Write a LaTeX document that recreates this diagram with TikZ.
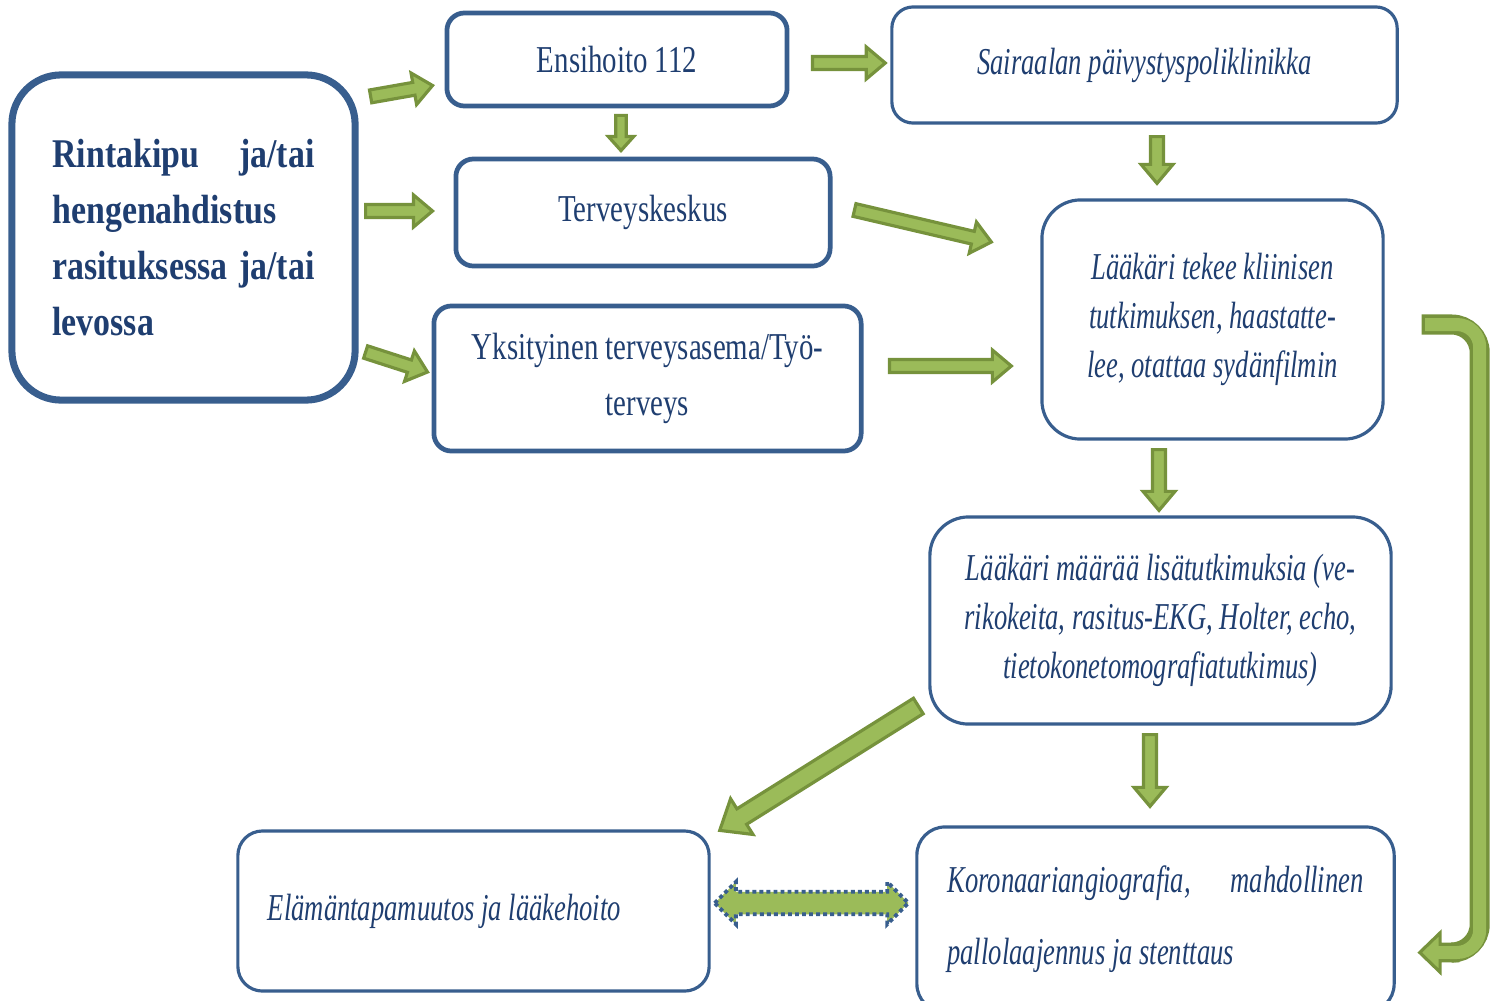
\documentclass[tikz,border=0pt]{standalone}
\usepackage{fontspec}
\setmainfont{Liberation Serif}
\newfontfamily\boxfont{Liberation Serif}[FakeStretch=0.76]
\newfontfamily\notefont{Liberation Serif}[FakeStretch=0.70]
\newfontfamily\headfont{Liberation Serif}[FakeStretch=0.83]
\usetikzlibrary{calc}
\definecolor{boxblue}{RGB}{56,94,142}
\definecolor{textnavy}{RGB}{31,62,112}
\definecolor{leaf}{RGB}{155,187,89}
\definecolor{moss}{RGB}{118,146,60}

\tikzset{
  shaft half/.store in=\shafthalf,
  head half/.store in=\headhalf,
  head len/.store in=\headlen,
  shaft half=1.85pt, head half=4.55pt, head len=5.4pt
}

\newcommand{\blockarrow}[3][]{%
  \path[greenarrow,#1] let \p1=#2, \p2=#3,
    \n1={atan2(\y2-\y1,\x2-\x1)} in
    ($(\p1)+(\n1+90:\shafthalf)$)
    -- ($(\p2)+(\n1+180:\headlen)+(\n1+90:\shafthalf)$)
    -- ($(\p2)+(\n1+180:\headlen)+(\n1+90:\headhalf)$)
    -- (\p2)
    -- ($(\p2)+(\n1+180:\headlen)+(\n1-90:\headhalf)$)
    -- ($(\p2)+(\n1+180:\headlen)+(\n1-90:\shafthalf)$)
    -- ($(\p1)+(\n1-90:\shafthalf)$) -- cycle;}

\newcommand{\dblarrow}[3][]{%
  \path[twoway,#1] let \p1=#2, \p2=#3,
    \n1={atan2(\y2-\y1,\x2-\x1)} in
    (\p1)
    -- ($(\p1)+(\n1:\headlen)+(\n1+90:\headhalf)$)
    -- ($(\p1)+(\n1:\headlen)+(\n1+90:\shafthalf)$)
    -- ($(\p2)+(\n1+180:\headlen)+(\n1+90:\shafthalf)$)
    -- ($(\p2)+(\n1+180:\headlen)+(\n1+90:\headhalf)$)
    -- (\p2)
    -- ($(\p2)+(\n1+180:\headlen)+(\n1-90:\headhalf)$)
    -- ($(\p2)+(\n1+180:\headlen)+(\n1-90:\shafthalf)$)
    -- ($(\p1)+(\n1:\headlen)+(\n1-90:\shafthalf)$)
    -- ($(\p1)+(\n1:\headlen)+(\n1-90:\headhalf)$) -- cycle;}

\begin{document}
\begin{tikzpicture}[
  x=0.01cm,
  y=-0.01cm,
  box/.style={
    draw=boxblue,
    line width=.9pt,
    align=center,
    text=textnavy,
    inner sep=0pt,
    font=\boxfont\fontsize{10.8}{16}\selectfont
  },
  thickbox/.style={box,line width=1.35pt,rounded corners=5pt},
  notebox/.style={box,font=\notefont\itshape\fontsize{10.8}{14}\selectfont},
  greenarrow/.style={draw=moss,fill=leaf,line width=.9pt},
  bigarrow/.style={shaft half=2.6pt,head half=6pt,head len=7.4pt},
  smallarrow/.style={shaft half=1.5pt,head half=3.6pt,head len=4pt},
  twoway/.style={
    draw=boxblue,fill=leaf,line width=1.1pt,
    dash pattern=on 1.1pt off .9pt,
    shaft half=3.2pt,head half=6pt,head len=6pt
  },
  loopdark/.style={draw=moss,line width=5.7pt,rounded corners=8pt},
  looplight/.style={draw=leaf,line width=3.7pt,rounded corners=6.5pt}
]
\useasboundingbox (0,0) rectangle (1501,1000);

\node[box,line width=2pt,rounded corners=14pt,
  minimum width=3.43cm,minimum height=3.25cm,
  align=flush left,text width=2.62cm,
  font=\headfont\bfseries\fontsize{11.6}{15.9}\selectfont]
  (symptom) at (183.5,237.5)
  {Rintakipu\hfill ja/tai\\hengenahdistus\\rasituksessa\hfill ja/tai\\levossa};

\node[thickbox,minimum width=3.40cm,minimum height=.93cm]
  (ems) at (617,59.5) {Ensihoito 112};
\node[thickbox,minimum width=3.74cm,minimum height=1.07cm]
  (hc) at (643,212.5) {Terveyskeskus};
\node[thickbox,minimum width=4.27cm,minimum height=1.45cm]
  (private) at (647.5,378.5) {Yksityinen terveysasema/Työ-\\terveys};

\node[notebox,rounded corners=6pt,minimum width=5.05cm,minimum height=1.16cm]
  (er) at (1144.5,65) {Sairaalan päivystyspoliklinikka};
\node[notebox,rounded corners=11pt,minimum width=3.41cm,minimum height=2.39cm]
  (exam) at (1212.5,319.5)
  {Lääkäri tekee kliinisen\\tutkimuksen, haastatte-\\lee, otattaa sydänfilmin};
\node[notebox,rounded corners=11pt,minimum width=4.61cm,minimum height=2.07cm]
  (tests) at (1160.5,620.5)
  {Lääkäri määrää lisätutkimuksia (ve-\\rikokeita, rasitus-EKG, Holter, echo,\\tietokonetomografiatutkimus)};
\node[notebox,rounded corners=7pt,minimum width=4.71cm,minimum height=1.6cm,
  align=flush left,text width=4.11cm]
  (lifestyle) at (473.5,911) {Elämäntapamuutos ja lääkehoito};
\node[notebox,rounded corners=8pt,minimum width=4.77cm,minimum height=1.85cm,
  align=flush left,text width=4.16cm,
  font=\notefont\itshape\fontsize{10.8}{20.5}\selectfont]
  (angio) at (1155.5,919.5)
  {Koronaariangiografia,\hfill mahdollinen\\pallolaajennus ja stenttaus};

\blockarrow{([shift={(12,25)}]symptom.north east)}{([shift={(-12,26)}]ems.west)}
\blockarrow{([shift={(7,-26.5)}]symptom.east)}{([shift={(-21,-1.5)}]hc.west)}
\blockarrow{([shift={(7,114.5)}]symptom.east)}{([shift={(-4,-6.5)}]private.west)}
\blockarrow[smallarrow]{([shift={(4,7)}]ems.south)}{([shift={(-22,-6)}]hc.north)}
\blockarrow{([shift={(23,3.5)}]ems.east)}{([shift={(-5,-2)}]er.west)}
\blockarrow{([shift={(12.5,12)}]er.south)}{([shift={(-55.5,-15)}]exam.north)}
\blockarrow{([shift={(22,-2.5)}]hc.east)}{([shift={(-49,-77.5)}]exam.west)}
\blockarrow{([shift={(26,-12.5)}]private.east)}{([shift={(-29,46.5)}]exam.west)}
\blockarrow{([shift={(-53.5,9)}]exam.south)}{([shift={(-1.5,-5)}]tests.north)}
\blockarrow[bigarrow]{([shift={(-10,85.5)}]tests.west)}{([shift={(9,1)}]lifestyle.north east)}
\blockarrow{([shift={(-10.5,9)}]tests.south)}{([shift={(-5.5,-19)}]angio.north)}
\dblarrow{([shift={(4,-8)}]lifestyle.east)}{([shift={(-7,-16.5)}]angio.west)}

\coordinate (loopa) at ([shift={(37,5)}]exam.east);
\coordinate (loopb) at ([shift={(24,33)}]angio.east);
\draw[loopdark] (loopa) -- ++(58,0) |- ([shift={(34,0)}]loopb);
\blockarrow[shaft half=2.35pt,head half=5.6pt,head len=5.8pt]
  {([shift={(38,0)}]loopb)}{(loopb)}
\draw[looplight] ([shift={(3.5,0)}]loopa) -- ++(54.5,0) |- ([shift={(30,0)}]loopb);
\end{tikzpicture}
\end{document}
